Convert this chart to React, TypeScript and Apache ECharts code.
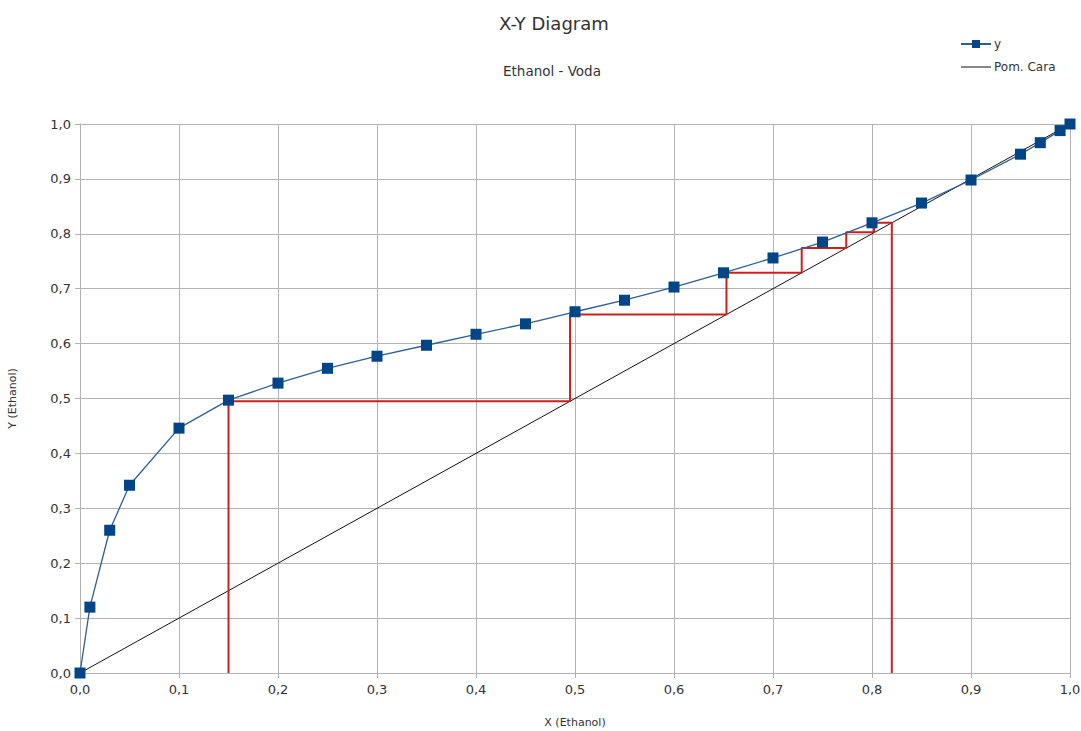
import React, { useEffect, useRef } from "react";
import * as echarts from "echarts";

const xLiquid = [0, 0.01, 0.03, 0.05, 0.1, 0.15, 0.2, 0.25, 0.3, 0.35, 0.4, 0.45, 0.5, 0.55, 0.6, 0.65, 0.7, 0.75, 0.8, 0.85, 0.9, 0.95, 0.97, 0.99, 1.0];
const yVapour = [0, 0.12, 0.26, 0.342, 0.446, 0.497, 0.528, 0.555, 0.577, 0.597, 0.617, 0.636, 0.658, 0.679, 0.703, 0.729, 0.756, 0.785, 0.82, 0.856, 0.898, 0.945, 0.966, 0.988, 1.0];

const diagX = [0, 1];
const diagY = [0, 1];

const stepX = [0.15, 0.15, 0.495, 0.495, 0.653, 0.653, 0.729, 0.729, 0.774, 0.774, 0.802, 0.802, 0.82, 0.82];
const stepY = [0, 0.495, 0.495, 0.653, 0.653, 0.729, 0.729, 0.774, 0.774, 0.803, 0.803, 0.82, 0.82, 0];

const titleText = "X-Y Diagram";
const subtitleText = "Ethanol - Voda";
const xName = "X (Ethanol)";
const yName = "Y (Ethanol)";
const seriesNames = ["y", "Pom. Cara"];

const FONT = "DejaVu Sans";
const fmt = (v: number) => v.toFixed(1).replace(".", ",");

export default function App() {
  const ref = useRef<HTMLDivElement>(null);
  useEffect(() => {
    document.body.style.margin = "0";
    const chart = echarts.init(ref.current!, null, { renderer: "svg" });
    const axisCommon = {
      type: "value" as const,
      min: 0,
      max: 1,
      interval: 0.1,
      axisLine: { show: true, onZero: false, lineStyle: { color: "#b3b3b3", width: 1 } },
      axisTick: { show: true, length: 5, lineStyle: { color: "#b3b3b3" } },
      splitLine: { show: true, lineStyle: { color: "#b3b3b3", width: 1 } },
      axisLabel: { formatter: fmt, color: "#333", fontFamily: FONT, fontSize: 13 },
      nameTextStyle: { color: "#333", fontFamily: FONT, fontSize: 11 },
    };
    chart.setOption({
      animation: false,
      backgroundColor: "#fff",
      textStyle: { fontFamily: FONT },
      title: [
        { text: titleText, left: 494, top: 9, textStyle: { fontFamily: FONT, fontSize: 18, fontWeight: "normal", color: "#333" } },
        { text: subtitleText, left: 498, top: 59, textStyle: { fontFamily: FONT, fontSize: 13.5, fontWeight: "normal", color: "#333" } },
      ],
      legend: {
        data: [
          { name: seriesNames[0] },
          { name: seriesNames[1], icon: "path://M0,0 H30 V1 H0 Z" },
        ],
        orient: "vertical",
        left: 955,
        top: 33,
        itemWidth: 30,
        itemHeight: 10,
        itemGap: 11,
        textStyle: { fontFamily: FONT, fontSize: 12, color: "#333", padding: [0, 0, 0, -2] },
      },
      grid: { left: 80, width: 990, top: 124, height: 549, containLabel: false, outerBoundsMode: "none" },
      xAxis: { ...axisCommon, name: xName, nameLocation: "middle", nameGap: 44, axisLabel: { ...axisCommon.axisLabel, margin: 10 } },
      yAxis: { ...axisCommon, name: yName, nameLocation: "middle", nameGap: 62, axisLabel: { ...axisCommon.axisLabel, margin: 9 } },
      series: [
        {
          name: seriesNames[1],
          type: "line",
          data: diagX.map((x, i) => [x, diagY[i]]),
          symbol: "none",
          lineStyle: { color: "#111", width: 1 },
          itemStyle: { color: "#111" },
          z: 2,
        },
        {
          name: "steps",
          type: "line",
          data: stepX.map((x, i) => [x, stepY[i]]),
          symbol: "none",
          lineStyle: { color: "#c9211e", width: 2 },
          z: 3,
        },
        {
          name: seriesNames[0],
          type: "line",
          data: xLiquid.map((x, i) => [x, yVapour[i]]),
          symbol: "rect",
          symbolSize: 11,
          lineStyle: { color: "#2f5f8f", width: 1.3 },
          itemStyle: { color: "#004586" },
          z: 4,
        },
      ],
    });
    return () => chart.dispose();
  }, []);
  return <div ref={ref} style={{ width: 1081, height: 731 }} />;
}
